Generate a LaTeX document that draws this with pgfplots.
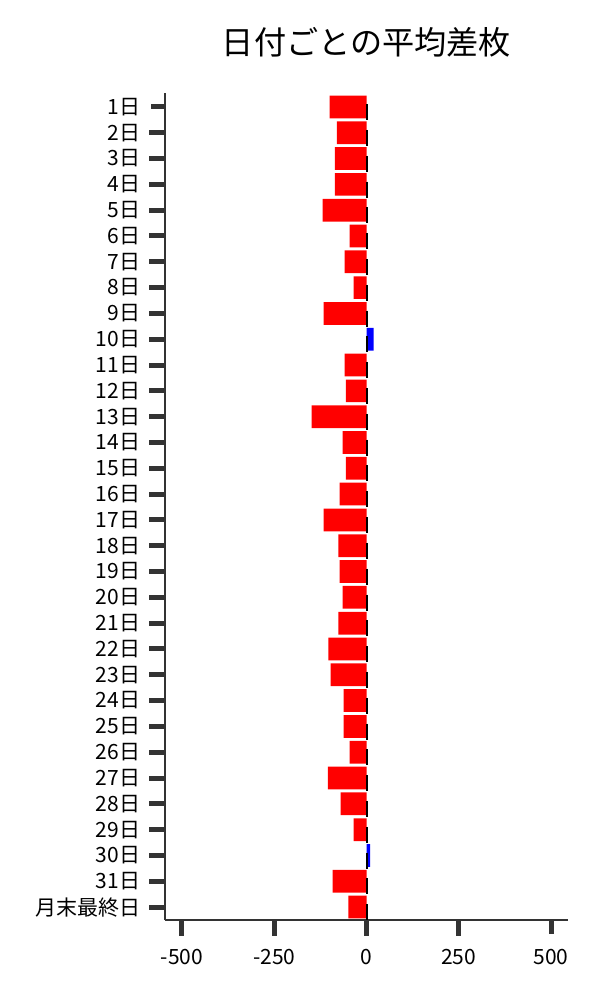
\documentclass[border=0pt]{standalone}
\usepackage{pgfplots}
\pgfplotsset{compat=1.18}
\usepackage{fontspec}
\setmainfont{Noto Sans CJK JP}
\definecolor{spine}{RGB}{51,51,51}

\begin{document}
\begin{tikzpicture}
\begin{axis}[
    at={(0,0)}, anchor=south west,
    scale only axis,
    width=241.8pt, height=496.2pt,
    xmin=-546, xmax=546,
    ymin=0.5, ymax=32.54,
    axis x line*=bottom, axis y line*=left,
    axis line style={spine, line width=0.8pt, -},
    xtick={-500,-250,0,250,500},
    ytick={1,...,32},
    yticklabels={月末最終日,31日,30日,29日,28日,27日,26日,25日,24日,23日,22日,21日,20日,19日,18日,17日,16日,15日,14日,13日,12日,11日,10日,9日,8日,7日,6日,5日,4日,3日,2日,1日},
    tick align=outside,
    major tick length=9.3pt,
    tick style={spine, line width=3pt, shorten <=1.2pt},
    ticklabel style={font=\fontsize{12.6}{14}\selectfont},
    xticklabel style={yshift=-5pt},
    yticklabel style={xshift=-2pt},
    /pgf/number format/assume math mode=true,
    title={日付ごとの平均差枚},
    title style={font=\fontsize{19.3}{22}\selectfont, at={(0.5,1)}, above, yshift=12.2pt},
]

% negative days (red)
\addplot[xbar, bar shift=0pt, bar width=0.88, fill=red, draw=none] coordinates {
    (-100,32) (-80,31) (-86,30) (-86,29) (-119,28) (-46,27) (-59,26) (-35,25)
    (-116,24) (-59,22) (-56,21) (-149,20) (-65,19) (-56,18) (-73,17)
    (-116,16) (-76,15) (-73,14) (-65,13) (-76,12) (-103,11) (-97,10) (-62,9)
    (-62,8) (-46,7) (-105,6) (-70,5) (-35,4) (-92,2) (-49,1)
};

% positive days (blue)
\addplot[xbar, bar shift=0pt, bar width=0.88, fill=blue, draw=none] coordinates {
    (19,23) (10,3)
};

% zero markers
\addplot[only marks, mark=|, mark size=4.8pt, mark options={black, line width=1.2pt}] coordinates {
    (0,31.8) (0,30.8) (0,29.8) (0,28.8) (0,27.8) (0,26.8) (0,25.8) (0,24.8)
    (0,23.8) (0,22.8) (0,21.8) (0,20.8) (0,19.8) (0,18.8) (0,17.8) (0,16.8)
    (0,15.8) (0,14.8) (0,13.8) (0,12.8) (0,11.8) (0,10.8) (0,9.8) (0,8.8)
    (0,7.8) (0,6.8) (0,5.8) (0,4.8) (0,3.8) (0,2.8) (0,1.8) (0,0.8)
};

\end{axis}
\pgfresetboundingbox
\path[use as bounding box] (-99pt,-48pt) rectangle (261pt,552pt);
\end{tikzpicture}
\end{document}
